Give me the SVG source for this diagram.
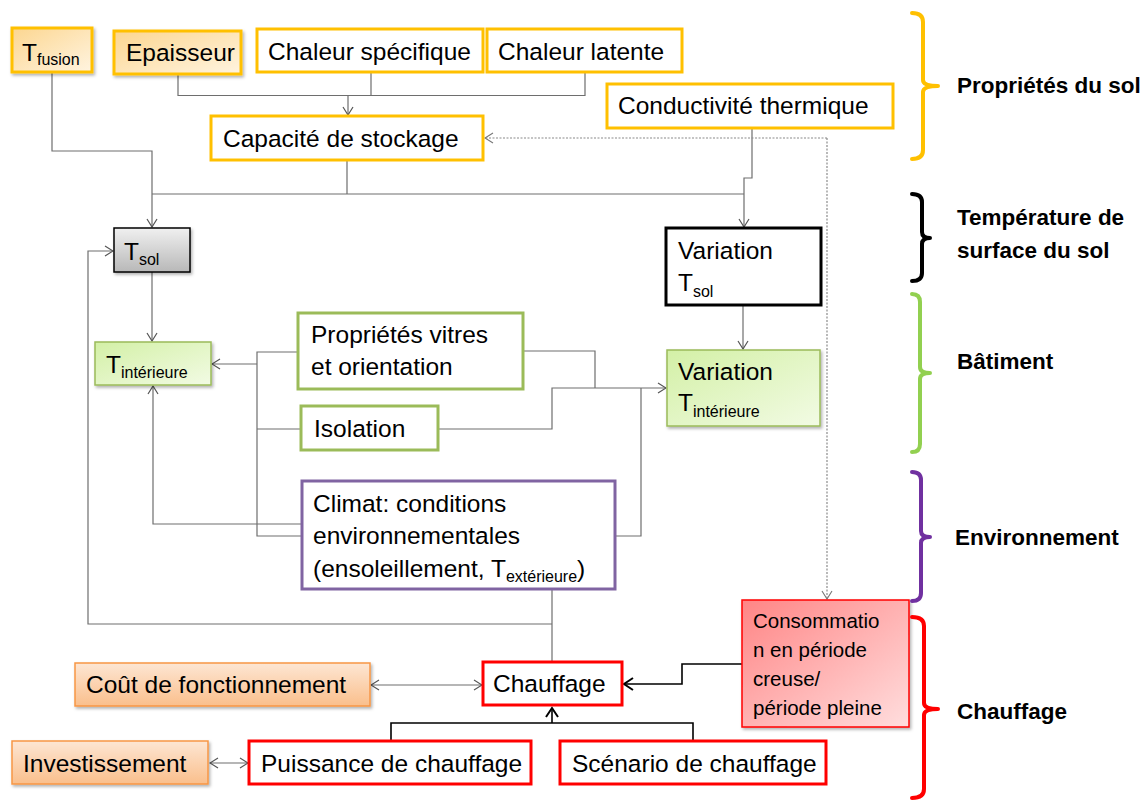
<svg xmlns="http://www.w3.org/2000/svg" width="1147" height="800" viewBox="0 0 1147 800">
<style>
text{font-family:"Liberation Sans",Arial,sans-serif;font-size:24.5px;fill:#000}
.sub{font-size:16px}
.lbl{font-weight:bold;font-size:22.5px}
.cons{font-size:20.5px}
.yb{stroke:#ffc000;stroke-width:3}
.gb{stroke:#9bbb59;stroke-width:3}
.rb{stroke:#ff0000;stroke-width:3}
.c{fill:none;stroke:#6e6e6e;stroke-width:1.2}
.k{fill:none;stroke:#000;stroke-width:1.6}
.d{fill:none;stroke:#8a8a8a;stroke-width:1.2;stroke-dasharray:2 1.5}
.br{fill:none;stroke-width:4;stroke-linecap:round;stroke-linejoin:round}
</style>
<defs>
<linearGradient id="gY" x1="0" y1="0" x2="1" y2="1"><stop offset="0" stop-color="#fcd690"/><stop offset="1" stop-color="#fff4e0"/></linearGradient>
<linearGradient id="gG" x1="0" y1="0" x2="0" y2="1"><stop offset="0" stop-color="#f0f0f0"/><stop offset="1" stop-color="#b8b8b8"/></linearGradient>
<linearGradient id="gV" x1="0" y1="0" x2="1" y2="1"><stop offset="0" stop-color="#d3f0a6"/><stop offset="1" stop-color="#f2fbe4"/></linearGradient>
<linearGradient id="gR" x1="0" y1="0" x2="1" y2="1"><stop offset="0" stop-color="#ff8585"/><stop offset="1" stop-color="#ffdede"/></linearGradient>
<linearGradient id="gO" x1="0" y1="0" x2="0" y2="1"><stop offset="0" stop-color="#fde6d3"/><stop offset="1" stop-color="#fabf8c"/></linearGradient>
<filter id="sh" x="-10%" y="-10%" width="130%" height="140%"><feDropShadow dx="1.5" dy="2" stdDeviation="1.5" flood-color="#000" flood-opacity="0.3"/></filter>
<marker id="a" markerWidth="10" markerHeight="12" refX="9" refY="6" orient="auto-start-reverse" markerUnits="userSpaceOnUse"><path d="M1,1 L9,6 L1,11" fill="none" stroke="#555" stroke-width="1.2"/></marker>
<marker id="ad" markerWidth="10" markerHeight="12" refX="9" refY="6" orient="auto" markerUnits="userSpaceOnUse"><path d="M1,1 L9,6 L1,11" fill="none" stroke="#777" stroke-width="1.1"/></marker>
<marker id="ak" markerWidth="12" markerHeight="14" refX="10" refY="7" orient="auto" markerUnits="userSpaceOnUse"><path d="M1,1 L10,7 L1,13" fill="none" stroke="#000" stroke-width="2"/></marker>
</defs>
<rect width="1147" height="800" fill="#fff"/>

<g id="connectors">
<path class="c" d="M178,74 V95.5 H585 V72 M371,72 V95.5"/>
<path class="c" d="M348,95.5 V115" marker-end="url(#a)"/>
<path class="c" d="M52,72 V151 H152 V227" marker-end="url(#a)"/>
<path class="c" d="M347,160 V194 M152,194 H744"/>
<path class="c" d="M752,128 V178 H744 V227" marker-end="url(#a)"/>
<path class="d" d="M827,138 H485" marker-end="url(#ad)"/>
<path class="d" d="M827,138 V599" marker-end="url(#ad)"/>
<path class="c" d="M152,272 V341" marker-end="url(#a)"/>
<path class="c" d="M743,305 V349" marker-end="url(#a)"/>
<path class="c" d="M298,352 H257 V536 H302 M257,429 H301"/>
<path class="c" d="M257,364 H212" marker-end="url(#a)"/>
<path class="c" d="M302,524 H153 V386" marker-end="url(#a)"/>
<path class="c" d="M523,351 H595 V388 M615,536 H641 V388"/>
<path class="c" d="M438,429 H552 V388 H666" marker-end="url(#a)"/>
<path class="c" d="M552,589 V662"/>
<path class="c" d="M552,624 H88 V251 H113" marker-end="url(#a)"/>
<path class="c" d="M371,685 H482" marker-start="url(#a)" marker-end="url(#a)"/>
<path class="c" d="M210,763 H248" marker-start="url(#a)" marker-end="url(#a)"/>
<path class="k" d="M742,664 H682 V684 H624" marker-end="url(#ak)"/>
<path class="k" d="M391,741 V723 H693 V741"/>
<path class="k" d="M552,723 V708" marker-end="url(#ak)"/>
</g>

<g id="n-tfusion"><rect x="12" y="28" width="80" height="44" fill="url(#gY)" class="yb" filter="url(#sh)"/><text x="22" y="61">T<tspan class="sub" dy="4">fusion</tspan></text></g>
<g id="n-epaisseur"><rect x="114" y="31" width="127" height="43" fill="url(#gY)" class="yb" filter="url(#sh)"/><text x="126" y="61">Epaisseur</text></g>
<g id="n-chaleur-spec"><rect x="257" y="29" width="226" height="43" fill="#fff" class="yb"/><text x="268" y="60">Chaleur spécifique</text></g>
<g id="n-chaleur-lat"><rect x="487" y="29" width="195" height="43" fill="#fff" class="yb"/><text x="498" y="60">Chaleur latente</text></g>
<g id="n-conductivite"><rect x="607" y="84" width="286" height="44" fill="#fff" class="yb"/><text x="618" y="114">Conductivité thermique</text></g>
<g id="n-capacite"><rect x="211" y="116" width="272" height="44" fill="#fff" class="yb"/><text x="223" y="147">Capacité de stockage</text></g>

<g id="n-tsol"><rect x="114" y="228" width="76" height="44" fill="url(#gG)" stroke="#000" stroke-width="1.5" filter="url(#sh)"/><text x="124" y="260">T<tspan class="sub" dy="5">sol</tspan></text></g>
<g id="n-var-tsol"><rect x="666" y="228" width="155" height="77" fill="#fff" stroke="#000" stroke-width="3"/><text x="678" y="259">Variation</text><text x="678" y="291">T<tspan class="sub" dy="6">sol</tspan></text></g>

<g id="n-tint"><rect x="95" y="342" width="116" height="43" fill="url(#gV)" stroke="#9bbb59" stroke-width="1.5" filter="url(#sh)"/><text x="106" y="373">T<tspan class="sub" dy="5">intérieure</tspan></text></g>
<g id="n-vitres"><rect x="298" y="313" width="225" height="76" fill="#fff" class="gb"/><text x="311" y="343">Propriétés vitres</text><text x="311" y="375">et orientation</text></g>
<g id="n-isolation"><rect x="301" y="406" width="137" height="44" fill="#fff" class="gb"/><text x="314" y="437">Isolation</text></g>
<g id="n-var-tint"><rect x="667" y="350" width="153" height="76" fill="url(#gV)" stroke="#9bbb59" stroke-width="1.5" filter="url(#sh)"/><text x="678" y="380">Variation</text><text x="678" y="411">T<tspan class="sub" dy="6">intérieure</tspan></text></g>

<g id="n-climat"><rect x="302" y="481" width="313" height="108" fill="#fff" stroke="#8064a2" stroke-width="3"/><text x="313" y="512">Climat: conditions</text><text x="313" y="544">environnementales</text><text x="313" y="577">(ensoleillement, T<tspan class="sub" dy="5">extérieure</tspan><tspan dy="-5">)</tspan></text></g>

<g id="n-consommation"><rect x="742" y="600" width="167" height="127" fill="url(#gR)" stroke="#ff0000" stroke-width="1.5" filter="url(#sh)"/><text class="cons" x="753" y="628">Consommatio</text><text class="cons" x="753" y="657">n en période</text><text class="cons" x="753" y="686">creuse/</text><text class="cons" x="753" y="715">période pleine</text></g>
<g id="n-chauffage"><rect x="483" y="662" width="139" height="43" fill="#fff" class="rb"/><text x="493" y="692">Chauffage</text></g>
<g id="n-cout"><rect x="75" y="663" width="295" height="43" fill="url(#gO)" stroke="#f79646" stroke-width="1.5" filter="url(#sh)"/><text x="86" y="693">Coût de fonctionnement</text></g>
<g id="n-invest"><rect x="12" y="741" width="196" height="43" fill="url(#gO)" stroke="#f79646" stroke-width="1.5" filter="url(#sh)"/><text x="23" y="772">Investissement</text></g>
<g id="n-puissance"><rect x="249" y="741" width="282" height="43" fill="#fff" class="rb"/><text x="261" y="772">Puissance de chauffage</text></g>
<g id="n-scenario"><rect x="560" y="741" width="266" height="43" fill="#fff" class="rb"/><text x="572" y="772">Scénario de chauffage</text></g>

<g id="legend">
<path class="br" stroke="#ffc000" d="M912,13 Q923,13 923,22 V80 Q923,86 938,86 Q923,86 923,92 V150 Q923,159 912,159"/>
<text class="lbl" x="957" y="93">Propriétés du sol</text>
<path class="br" stroke="#000" d="M912,194 Q922,194 922,202 V232 Q922,238 930,238 Q922,238 922,244 V273 Q922,281 912,281"/>
<text class="lbl" x="957" y="225">Température de</text>
<text class="lbl" x="957" y="258">surface du sol</text>
<path class="br" stroke="#92d050" d="M912,294 Q920,294 920,302 V367 Q920,373 930,373 Q920,373 920,379 V444 Q920,452 912,452"/>
<text class="lbl" x="957" y="369">Bâtiment</text>
<path class="br" stroke="#7030a0" d="M912,472 Q921,472 921,480 V531 Q921,537 930,537 Q921,537 921,543 V593 Q921,601 912,601"/>
<text class="lbl" x="955" y="545">Environnement</text>
<path class="br" stroke="#ff0000" d="M912,617 Q924,617 924,626 V703 Q924,709 938,709 Q924,709 924,715 V789 Q924,798 912,798"/>
<text class="lbl" x="957" y="719">Chauffage</text>
</g>
</svg>
